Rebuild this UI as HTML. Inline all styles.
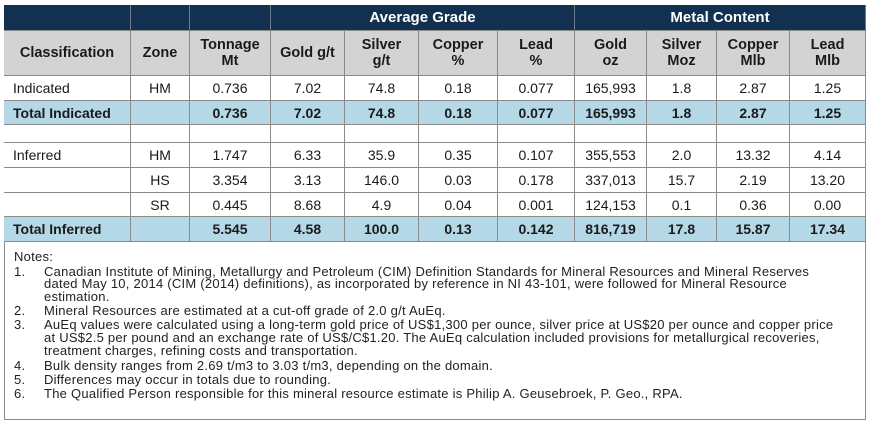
<!DOCTYPE html>
<html><head><meta charset="utf-8">
<style>
body{margin:0;width:872px;height:427px;background:#fff;position:relative;overflow:hidden;font-family:"Liberation Sans",Arial,sans-serif;color:#1a1a1a}
.c{position:absolute;box-sizing:border-box;border-right:1px solid #8a8a8a;border-bottom:1px solid #8a8a8a;display:flex;align-items:center;justify-content:center;text-align:center;font-size:14px;line-height:16px}
.n{position:absolute;font-size:13px;line-height:13px;white-space:nowrap;color:#222;letter-spacing:0.25px}
</style></head><body>
<div style="position:absolute;left:4px;top:5px;width:862px;height:415px;box-sizing:border-box;border:1px solid #8a8a8a"></div>
<div id="grid"></div>
<div>
<div class="n" style="left:14px;top:250px">Notes:</div>
<div class="n" style="left:14px;top:265px">1.</div><div class="n" style="left:44px;top:265px">Canadian Institute of Mining, Metallurgy and Petroleum (CIM) Definition Standards for Mineral Resources and Mineral Reserves</div>
<div class="n" style="left:44px;top:277px">dated May 10, 2014 (CIM (2014) definitions), as incorporated by reference in NI 43-101, were followed for Mineral Resource</div>
<div class="n" style="left:44px;top:290px">estimation.</div>
<div class="n" style="left:14px;top:304px">2.</div><div class="n" style="left:44px;top:304px">Mineral Resources are estimated at a cut-off grade of 2.0 g/t AuEq.</div>
<div class="n" style="left:14px;top:318px">3.</div><div class="n" style="left:44px;top:318px">AuEq values were calculated using a long-term gold price of US$1,300 per ounce, silver price at US$20 per ounce and copper price</div>
<div class="n" style="left:44px;top:331px">at US$2.5 per pound and an exchange rate of US$/C$1.20. The AuEq calculation included provisions for metallurgical recoveries,</div>
<div class="n" style="left:44px;top:344px">treatment charges, refining costs and transportation.</div>
<div class="n" style="left:14px;top:359px">4.</div><div class="n" style="left:44px;top:359px">Bulk density ranges from 2.69 t/m3 to 3.03 t/m3, depending on the domain.</div>
<div class="n" style="left:14px;top:373px">5.</div><div class="n" style="left:44px;top:373px">Differences may occur in totals due to rounding.</div>
<div class="n" style="left:14px;top:387px">6.</div><div class="n" style="left:44px;top:387px">The Qualified Person responsible for this mineral resource estimate is Philip A. Geusebroek, P. Geo., RPA.</div>
</div>
<script>
const colX=[4,131,190,271,345,419,498,575,647,717,790,866];
const rowY=[5,31,76,101,125,143,168,193,217,242];
const headers=["Classification","Zone","Tonnage<br>Mt","Gold g/t","Silver<br>g/t","Copper<br>%","Lead<br>%","Gold<br>oz","Silver<br>Moz","Copper<br>Mlb","Lead<br>Mlb"];
const rows=[
["Indicated","HM","0.736","7.02","74.8","0.18","0.077","165,993","1.8","2.87","1.25"],
["Total Indicated","","0.736","7.02","74.8","0.18","0.077","165,993","1.8","2.87","1.25"],
["","","","","","","","","","",""],
["Inferred","HM","1.747","6.33","35.9","0.35","0.107","355,553","2.0","13.32","4.14"],
["","HS","3.354","3.13","146.0","0.03","0.178","337,013","15.7","2.19","13.20"],
["","SR","0.445","8.68","4.9","0.04","0.001","124,153","0.1","0.36","0.00"],
["Total Inferred","","5.545","4.58","100.0","0.13","0.142","816,719","17.8","15.87","17.34"]];
const g=document.getElementById('grid');
function cell(x0,x1,y0,y1,html,st){const d=document.createElement('div');d.className='c';d.style.left=x0+'px';d.style.top=y0+'px';d.style.width=(x1-x0)+'px';d.style.height=(y1-y0)+'px';d.innerHTML=html;Object.assign(d.style,st||{});g.appendChild(d);return d;}
const dark={background:'#12304f',color:'#fff',fontWeight:'bold',fontSize:'15px',borderRight:'1px solid #6d7c8c'};
let d;
d=cell(4,131,5,31,'',dark);


d=cell(131,190,5,31,'',dark);


d=cell(190,271,5,31,'',dark);


d=cell(271,575,5,31,'Average Grade',dark);


d=cell(575,866,5,31,'Metal Content',dark);


headers.forEach((h,i)=>{
 const e=cell(colX[i],colX[i+1],31,76,h,{background:'#d3d3d3',fontWeight:'bold',fontSize:'14.5px'});
 
 
});
rows.forEach((r,ri)=>{
 const total=r[0].startsWith('Total');
 r.forEach((v,ci)=>{
  const st={background:total?'#b4d8e5':'#fff',fontWeight:total?'bold':'normal'};
  if(ci===0){st.justifyContent='flex-start';st.paddingLeft='9px';}
  const e=cell(colX[ci],colX[ci+1],rowY[ri+2],rowY[ri+3],v,st);
  
  
 });
});
</script>
</body></html>
